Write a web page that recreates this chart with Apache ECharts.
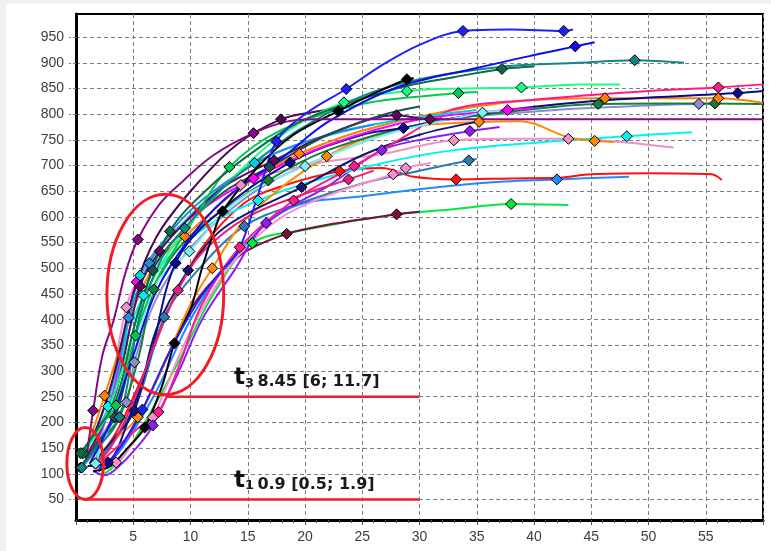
<!DOCTYPE html>
<html><head><meta charset="utf-8">
<script src="https://cdn.jsdelivr.net/npm/echarts@6/dist/echarts.min.js"></script>
<style>
html,body{margin:0;padding:0;background:#f1f1f1;width:771px;height:551px;overflow:hidden}
#panel{position:absolute;left:6px;top:4px;width:765px;height:547px;background:#fff}
#chart{position:absolute;left:0;top:0;width:771px;height:551px}
</style></head>
<body><div id="panel"></div><div id="chart"></div>
<script>
// ---- tick labels ----
const xTicks = [5, 10, 15, 20, 25, 30, 35, 40, 45, 50, 55];
const yTicks = [50, 100, 150, 200, 250, 300, 350, 400, 450, 500, 550, 600, 650, 700, 750, 800, 850, 900, 950];

// ---- curves: [time, value] points ----
const purpleA = [[0.9,130],[1.5,223],[2.3,330],[3.3,400],[4.3,490],[5.4,556],[7.3,625],[9.4,671],[12,720],[15.5,763],[18.5,786],[21,790],[60,790]];
const purpleAMarks = [1,5,9];
const blueB = [[2,110],[3.5,140],[5.8,225],[8,330],[10.5,430],[12.5,490],[14.2,535],[16,650],[17.5,747],[20,800],[23.6,849],[26.7,895],[30,935],[33.8,962],[38,965],[42.6,962],[43.4,965]];
const blueBMarks = [2,8,10,13,15];
const blueC = [[1.2,120],[3,200],[5,330],[7,455],[9.8,555],[13,635],[18,715],[22,785],[28,852],[35,890],[40,915],[43.6,932],[45.3,940]];
const blueCMarks = [11];
const tealD = [[0.5,112],[1.5,140],[3.8,210],[5.5,400],[7.5,520],[9.5,578],[13,660],[17,730],[19.5,770],[25,835],[30,868],[37,892],[44,900],[48.8,905],[53.1,900]];
const tealDMarks = [0,2,5,13];
const dkgreenE = [[0.4,140],[1.5,175],[3.5,245],[5.5,420],[8.2,572],[12,665],[16,735],[20,790],[28,850],[33,872],[37.2,888],[40,893]];
const dkgreenEMarks = [0,4,10];
const blackF = [[1.5,105],[3,115],[4.5,150],[6,190],[7.5,270],[8.6,354],[10,420],[11,500],[12.1,574],[12.8,611],[16,700],[19,760],[22.9,806],[26,840],[28.9,868],[29.5,870]];
const blackFMarks = [3,5,9,12,14];
const springG = [[1,150],[2.5,205],[4,300],[6,445],[9,560],[13,660],[18,760],[23.4,823],[28.9,845],[34,850],[38.9,852],[44,858],[47.5,858]];
const springGMarks = [7,8,10];
const greenH = [[0.6,140],[2,190],[3.5,233],[5.2,369],[7,475],[10,585],[13.4,697],[18,770],[25,820],[33.4,841],[35,843]];
const greenHMarks = [0,2,3,6,9];
const pinkI = [[1.8,115],[3.5,150],[5.5,190],[7.2,220],[9,310],[11,430],[14.3,541],[19,632],[24.3,699],[29,760],[33,810],[40,828],[50,845],[56.1,852],[60,858]];
const pinkIMarks = [3,6,7,8,13];
const pinkI2 = [[1.5,115],[3,150],[5,240],[7,360],[8.9,457],[11,530],[15,600],[20,645],[23.8,673],[26,690]];
const pinkI2Marks = [4,8];
const navyJ = [[1,115],[2.8,122],[4.5,200],[6.5,330],[8.7,510],[12,600],[18.7,706],[25,760],[28.6,773],[35,800],[45,825],[57.8,841],[60,845]];
const navyJMarks = [1,4,6,8,11];
const navyJ2 = [[1.2,115],[3,160],[5.1,223],[7,380],[9.8,496],[13,580],[19.7,658],[25,720],[30,760],[35,785]];
const navyJ2Marks = [2,4,6];
const orangeK = [[0.8,140],[2.5,252],[5,420],[7,510],[9.5,562],[14,650],[19.5,723],[27,780],[37.7,823],[46.2,831],[56.1,831],[60,822]];
const orangeKMarks = [1,4,6,9,10];
const orangeN = [[1.5,125],[3,160],[5.4,210],[8,330],[10,430],[11.9,500],[15,600],[21.9,718],[28,770],[35.2,785],[38.8,786],[43,755],[45.3,748],[47,746]];
const orangeNMarks = [2,5,7,9,12];
const dkgreenL = [[0.8,120],[2,160],[3.8,210],[5.5,330],[6.8,459],[9,540],[12,600],[16.8,671],[22,730],[30,780],[38,805],[45.6,820],[55.8,821],[60,820]];
const dkgreenLMarks = [2,4,7,11,12];
const lavenderM = [[1.2,130],[3,200],[4.4,239],[5.1,317],[7,440],[10,540],[15,640],[20,700],[30,780],[40,805],[48,815],[54.4,820],[56,820]];
const lavenderMMarks = [2,3,11];
const cyanO = [[1.7,120],[2.8,231],[4.5,370],[5.9,447],[8,520],[12,590],[15.9,632],[20,665],[26.8,705],[33,730],[40.4,745],[48.1,757],[53.8,765]];
const cyanOMarks = [0,1,3,6,11];
const turqO2 = [[0.7,140],[2,190],[3.5,270],[5.6,486],[9,580],[12,645],[15.6,705],[20,745],[26,780],[32,800],[35,808]];
const turqO2Marks = [3,6];
const pinkP = [[1.5,110],[3.5,122],[5,160],[6.7,210],[9,330],[11,420],[14,520],[18,600],[23,650],[27.7,683],[28.8,695],[31,705]];
const pinkPMarks = [1,3,9,10];
const pinkP2 = [[1,125],[2.5,200],[4.4,424],[6,500],[9,580],[14.4,662],[20,700],[26.6,722],[33,749],[38,752],[43,752],[48,745],[52.2,735]];
const pinkP2Marks = [2,5,8,10];
const redQ = [[1.5,120],[3.5,180],[6,300],[8.5,440],[11,540],[14.7,627],[18,660],[23,689],[26.7,695],[29.5,678],[33.2,673],[38,675],[42,676],[45,683],[50,685],[55.5,683],[56.4,672]];
const redQMarks = [7,10];
const dodgerR = [[2,110],[4,150],[7,260],[10,400],[13,500],[18.5,615],[25,640],[35.4,666],[42,673],[48.3,678]];
const dodgerRMarks = [8];
const dodgerR2 = [[0.5,130],[2,200],[3.5,300],[4.6,404],[6.4,510],[9,590],[12,650],[17,720],[22,760],[26,780]];
const dodgerR2Marks = [3,4];
const greenS = [[2.5,100],[4,130],[6,200],[9,320],[12,450],[15.4,549],[20,575],[28,605],[33,615],[38,625],[43,623]];
const greenSMarks = [5,9];
const maroonY = [[2,105],[4,150],[7,280],[10,420],[13,500],[15,535],[18.4,567],[22,585],[28,605],[30,610]];
const maroonYMarks = [6,8];
const steelT = [[1.5,115],[3.5,170],[5.5,250],[7.7,405],[10,480],[14.7,582],[20,630],[25,665],[30,690],[34.3,710],[35,713]];
const steelTMarks = [3,5,9];
const lcyanU = [[1.7,120],[3,200],[5,330],[7,470],[9.9,533],[14,630],[20,699],[27,760],[35.5,803],[37,806]];
const lcyanUMarks = [0,4,6,8];
const magentaV = [[1,130],[2.5,200],[4,330],[5.3,473],[8,560],[12,630],[15.5,675],[22,740],[30,790],[37.7,808],[40,812]];
const magentaVMarks = [3,6,9];
const violetW = [[1.5,105],[2.5,97],[4,120],[6,170],[6.7,194],[9,300],[11,400],[13.8,495],[16.6,588],[22,660],[26.7,730],[30,750],[34.4,767],[37,775]];
const violetWMarks = [4,8,10,12];
const dkpurpleX = [[0.8,130],[2,180],[3.5,260],[5.6,465],[7.3,533],[10,600],[13,660],[17.3,710],[22,760],[28,798],[30.9,790],[32,792]];
const dkpurpleXMarks = [3,4,7,9,10];
const dkpurpleX3 = [[0.6,130],[2,200],[3.4,300],[5,450],[7,560],[10,650],[14,740],[17.9,790],[21,805],[24,815]];
const dkpurpleX3Marks = [7];
const dktealZ = [[0.4,112],[1.5,150],[3.4,210],[5,350],[6.7,496],[10,590],[13,650],[16.9,697],[22,760],[27,800],[30,815]];
const dktealZMarks = [0,2,4,7];

// ---- annotations ----
const t3Line = [[7.9,250],[30,250]];
const t1Line = [[0.7,50],[30,50]];
const ellipses = [[7.8,449,5.1,195],[0.8,120,1.6,70]]; // centre x, centre y, half-width, half-height (data units)
const t3Label = {anchor:[13.8,250], sub:'3', value:8.45, low:6, high:11.7};
const t1Label = {anchor:[13.8,50], sub:'1', value:0.9, low:0.5, high:1.9};

const curveList = [
  [greenS,greenSMarks,'#00e83a'],[maroonY,maroonYMarks,'#7a0f3c'],[dodgerR,dodgerRMarks,'#1e8cff'],
  [redQ,redQMarks,'#ff1010'],[steelT,steelTMarks,'#2a7ab8'],[pinkP,pinkPMarks,'#ff8ccc'],
  [pinkP2,pinkP2Marks,'#f28fc8'],[violetW,violetWMarks,'#8c1cff'],[cyanO,cyanOMarks,'#00f2f2'],
  [orangeN,orangeNMarks,'#ff8a00'],[lavenderM,lavenderMMarks,'#8c8cd0'],[dkgreenL,dkgreenLMarks,'#14803a'],
  [orangeK,orangeKMarks,'#ff7f00'],[navyJ,navyJMarks,'#0a0a8c'],[navyJ2,navyJ2Marks,'#141478'],
  [pinkI,pinkIMarks,'#ff1a8c'],[pinkI2,pinkI2Marks,'#e6207a'],[magentaV,magentaVMarks,'#ff00ff'],
  [lcyanU,lcyanUMarks,'#7df0f0'],[turqO2,turqO2Marks,'#00d0e0'],[dodgerR2,dodgerR2Marks,'#2a8ae0'],
  [dkpurpleX,dkpurpleXMarks,'#5c0a5c'],[dkpurpleX3,dkpurpleX3Marks,'#4a0a50'],[dktealZ,dktealZMarks,'#1d4f55'],
  [greenH,greenHMarks,'#00c850'],[springG,springGMarks,'#1aff80'],[dkgreenE,dkgreenEMarks,'#0a6b45'],
  [tealD,tealDMarks,'#128585'],[blackF,blackFMarks,'#000000'],[blueC,blueCMarks,'#0c0cf0'],
  [blueB,blueBMarks,'#2020ff'],[purpleA,purpleAMarks,'#82098a']
];

const series = curveList.map(([pts, marks, col]) => ({
  type: 'line', smooth: 0.35, symbol: 'diamond', symbolSize: 11,
  lineStyle: {color: col, width: 2}, itemStyle: {color: col, borderColor: '#000', borderWidth: 1},
  emphasis: {disabled: true}, animation: false,
  data: pts.map((p, i) => marks.includes(i) ? {value: p} : {value: p, symbol: 'none'})
}));

[t3Line, t1Line].forEach(l => series.push({
  type: 'line', symbol: 'none', data: l, lineStyle: {color: '#f21d24', width: 2.5}, z: 5, animation: false
}));

series.push({
  type: 'custom', z: 6, animation: false, encode: {x: 0, y: 1},
  data: ellipses,
  renderItem: (params, api) => {
    const c = api.coord([api.value(0), api.value(1)]);
    const s = api.size([api.value(2), api.value(3)], [api.value(0), api.value(1)]);
    return {type: 'ellipse', shape: {cx: c[0], cy: c[1], rx: s[0], ry: s[1]},
      style: {fill: 'none', stroke: '#f21d24', lineWidth: 3}};
  }
});

const labels = [t3Label, t1Label];
series.push({
  type: 'custom', z: 7, animation: false, encode: {x: 0, y: 1},
  data: labels.map(l => l.anchor),
  renderItem: (params, api) => {
    const l = labels[params.dataIndex];
    const c = api.coord([api.value(0), api.value(1)]);
    return {type: 'text', x: c[0], y: c[1] - 7,
      style: {text: '{t|t}{s|' + l.sub + '} {v|' + l.value + ' [' + l.low + '; ' + l.high + ']}',
        align: 'left', verticalAlign: 'bottom', fill: '#1a1a1a',
        rich: {
          t: {fontFamily: 'DejaVu Sans', fontWeight: 'bold', fontSize: 23, lineHeight: 24, verticalAlign: 'bottom', fill: '#111'},
          s: {fontFamily: 'DejaVu Sans', fontWeight: 'bold', fontSize: 13, lineHeight: 14, verticalAlign: 'bottom', fill: '#1a1a1a'},
          v: {fontFamily: 'DejaVu Sans', fontWeight: 'bold', fontSize: 16, lineHeight: 16, verticalAlign: 'bottom', fill: '#1a1a1a'}
        }}};
  }
});

const gridDash = {type: [4, 3], color: '#7d7d7d', width: 1};
const chart = echarts.init(document.getElementById('chart'), null, {renderer: 'canvas'});
chart.setOption({
  backgroundColor: 'transparent',
  animation: false,
  grid: {left: 76, right: 8, top: 14, bottom: 31, show: true, borderColor: '#000', borderWidth: 2, backgroundColor: 'transparent'},
  xAxis: {
    type: 'value', min: 0, max: 60, interval: 5,
    axisLine: {show: true, lineStyle: {color: '#000', width: 3}},
    axisTick: {show: true, length: 5, lineStyle: {color: '#555'}},
    minorTick: {show: true, splitNumber: 5, length: 3, lineStyle: {color: '#555'}},
    axisLabel: {margin: 10, fontSize: 14, fontFamily: 'Liberation Sans', color: '#3c3c48',
      formatter: v => xTicks.includes(v) ? String(v) : ''},
    splitLine: {show: true, lineStyle: gridDash}
  },
  yAxis: {
    type: 'value', min: 10, max: 995,
    axisLine: {show: true, lineStyle: {color: '#000', width: 3}},
    axisTick: {show: true, length: 7, customValues: yTicks, lineStyle: {color: '#777', type: [3, 2]}},
    axisLabel: {margin: 12, fontSize: 14, fontFamily: 'Liberation Sans', color: '#3c3c48', customValues: yTicks},
    splitLine: {show: true, lineStyle: gridDash}
  },
  series: series
});
</script></body></html>
